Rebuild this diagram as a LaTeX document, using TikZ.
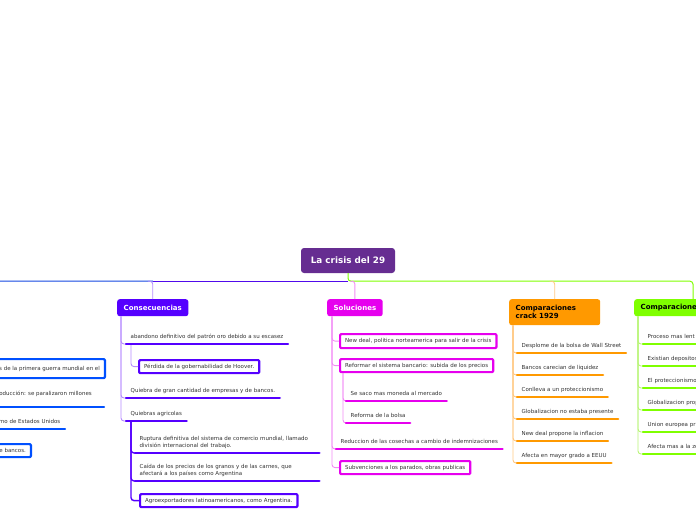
\documentclass[tikz,border=0pt]{standalone}
\usepackage{fontspec}
\setmainfont{DejaVu Sans}
\definecolor{raiz}{RGB}{102,45,145}
\definecolor{violeta}{RGB}{85,0,255}
\definecolor{violetaC}{RGB}{182,140,255}
\definecolor{violetaB}{RGB}{80,10,235}
\definecolor{rosa}{RGB}{230,0,238}
\definecolor{rosaC}{RGB}{242,140,245}
\definecolor{naranja}{RGB}{255,153,0}
\definecolor{naranjaC}{RGB}{255,200,130}
\definecolor{lima}{RGB}{127,255,0}
\definecolor{limaC}{RGB}{185,245,120}
\definecolor{azul}{RGB}{0,80,255}
\definecolor{azulB}{RGB}{20,70,225}
\definecolor{texto}{RGB}{50,50,50}

\begin{document}
\begin{tikzpicture}[x=1pt, y=-1pt, line join=round,
    every node/.style={font=\fontsize{5.5}{7}\selectfont, text=texto},
    raizbox/.style={fill=raiz, rounded corners=3pt, minimum width=94pt, minimum height=25pt,
        text=white, font=\fontsize{8.8}{10}\selectfont\bfseries},
    tema/.style={fill=#1, rounded corners=2.5pt, anchor=north west, inner xsep=6.5pt,
        minimum height=17pt, font=\fontsize{7}{8}\selectfont\bfseries, align=left},
    hoja/.style={anchor=south west, inner xsep=4.5pt, inner ysep=3.6pt, text depth=1.3pt, align=left},
    hoja2/.style={hoja, text depth=8.3pt, text width=175pt},
    caja/.style={draw=#1, line width=2.2pt, rounded corners=1pt, anchor=north west,
        inner xsep=5pt, minimum height=13pt},
    sub/.style={draw=#1, line width=2.4pt, line cap=round},
    rama/.style={draw=#1, line width=0.9pt, rounded corners=3pt}]

    \useasboundingbox (0,0) rectangle (696,520);

    % --- 1. raiz y temas ---
    \node[raizbox] (root) at (348,260.5) {La crisis del 29};
    \node[tema=violeta, text=white] (cons) at (117,299) {Consecuencias};
    \node[tema=rosa, text=white] (sol) at (327,299) {Soluciones};
    \node[tema=naranja, text=black, text width=78pt, minimum height=26pt] (crack) at (509,299) {Comparaciones\\crack 1929};
    \node[tema=lima, text=black] (cmpB) at (634,299) {Comparaciones};

    \coordinate (cruce) at ([yshift=-8pt]root.south);
    \coordinate (offL) at (-5,281);

    % --- 2. lineas principales ---
    \draw[rama=lima, line width=1pt] (root.south) -- (cruce) -| ([xshift=59pt]cmpB.north west);
    \draw[violetaB, line width=1pt] (cruce) -- (cons.north |- cruce);
    \draw[azulB, line width=1pt] (cons.north |- cruce) -- (offL);
    \draw[rama=violetaC] ([xshift=-5pt]cons.north |- cruce) -| (cons.north);
    \draw[rama=rosaC] ([xshift=-5pt]sol.north |- cruce) -| (sol.north);
    \draw[rama=naranjaC] ([xshift=-5pt]crack.north |- cruce) -| (crack.north);

    % --- 3. rama cortada a la izquierda ---
    \node[caja=azul, anchor=north east, minimum height=19pt] (izq1) at (106,358) {s de la primera guerra mundial en el};
    \node[anchor=base east, inner sep=0pt] (izq2) at (92,395) {oducción: se paralizaron millones};
    \coordinate (izq2f) at (104,407);
    \draw[sub=azul] (izq2f -| offL) -- (izq2f);
    \node[hoja, anchor=south east] (izq3) at (65,429) {rno de Estados Unidos};
    \draw[sub=azul] (izq3.south -| offL) -- (izq3.south east);
    \node[caja=azul, anchor=north east] (izq4) at (32,443) {e bancos.};

    % --- 4. Consecuencias ---
    \node[hoja] (c1) at (126,344) {abandono definitivo del patrón oro debido a su escasez};
    \node[caja=violeta] (c1a) at (138,359) {Pérdida de la gobernabilidad de Hoover.};
    \node[hoja] (c2) at (126,398) {Quiebra de gran cantidad de empresas y de bancos.};
    \node[hoja] (c3) at (126,421) {Quiebras agricolas};
    \node[hoja2] (c3a) at (135,453) {Ruptura definitiva del sistema de comercio mundial, llamado\\división internacional del trabajo.};
    \node[hoja2] (c3b) at (135,481) {Caída de los precios de los granos y de las carnes, que\\afectará a los países como Argentina};
    \node[caja=violeta] (c3c) at (139,493) {Agroexportadores latinoamericanos, como Argentina.};

    \draw[rama=violetaC] ([xshift=4pt]cons.south west) |- (c1.south west);
    \draw[rama=violetaC] ([xshift=4pt]cons.south west) |- (c2.south west);
    \draw[rama=violetaC] ([xshift=4pt]cons.south west) |- (c3.south west);
    \draw[rama=violetaC] ([xshift=5pt]c1.south west) |- (c1a.west);
    \draw[rama=violeta, line width=1.4pt] ([xshift=5pt]c3.south west) |- (c3a.south west);
    \draw[rama=violeta, line width=1.4pt] ([xshift=5pt]c3.south west) |- (c3b.south west);
    \draw[rama=violeta, line width=1.4pt] ([xshift=5pt]c3.south west) |- (c3c.west);
    \draw[sub=violeta] (c1.south west) -- (c1.south east);
    \draw[sub=violeta] (c2.south west) -- (c2.south east);
    \draw[sub=violeta] (c3.south west) -- (c3.south east);
    \draw[sub=violeta] (c3a.south west) -- (c3a.south east);
    \draw[sub=violeta] (c3b.south west) -- (c3b.south east);

    % --- 5. Soluciones ---
    \node[caja=rosa, minimum height=14pt] (s1) at (339,333) {New deal, politica norteamerica para salir de la crisis};
    \node[caja=rosa] (s2) at (339,358) {Reformar el sistema bancario: subida de los precios};
    \node[hoja] (s2a) at (346,401) {Se saco mas moneda al mercado};
    \node[hoja] (s2b) at (346,423) {Reforma de la bolsa};
    \node[hoja] (s3) at (336,449) {Reduccion de las cosechas a cambio de indemnizaciones};
    \node[caja=rosa] (s4) at (339,460) {Subvenciones a los parados, obras publicas};

    \draw[rama=rosaC] ([xshift=5pt]sol.south west) |- (s1.west);
    \draw[rama=rosaC] ([xshift=5pt]sol.south west) |- (s2.west);
    \draw[rama=rosaC] ([xshift=5pt]sol.south west) |- (s3.south west);
    \draw[rama=rosaC] ([xshift=5pt]sol.south west) |- (s4.west);
    \draw[rama=rosaC] ([xshift=4pt]s2.south west) |- (s2a.south west);
    \draw[rama=rosaC] ([xshift=4pt]s2.south west) |- (s2b.south west);
    \draw[sub=rosa] (s2a.south west) -- (s2a.south east);
    \draw[sub=rosa] (s2b.south west) -- (s2b.south east);
    \draw[sub=rosa] (s3.south west) -- (s3.south east);

    % --- 6. Comparaciones crack 1929 ---
    \node[hoja] (k1) at (517,353) {Desplome de la bolsa de Wall Street};
    \node[hoja] (k2) at (517,375) {Bancos carecian de liquidez};
    \node[hoja] (k3) at (517,397) {Conlleva a un proteccionismo};
    \node[hoja] (k4) at (517,419) {Globalizacion no estaba presente};
    \node[hoja] (k5) at (517,441) {New deal propone la inflacion};
    \node[hoja] (k6) at (517,463) {Afecta en mayor grado a EEUU};

    \draw[rama=naranjaC] ([xshift=4pt]crack.south west) |- (k1.south west);
    \draw[rama=naranjaC] ([xshift=4pt]crack.south west) |- (k2.south west);
    \draw[rama=naranjaC] ([xshift=4pt]crack.south west) |- (k3.south west);
    \draw[rama=naranjaC] ([xshift=4pt]crack.south west) |- (k4.south west);
    \draw[rama=naranjaC] ([xshift=4pt]crack.south west) |- (k5.south west);
    \draw[rama=naranjaC] ([xshift=4pt]crack.south west) |- (k6.south west);
    \draw[sub=naranja] (k1.south west) -- (k1.south east);
    \draw[sub=naranja] (k2.south west) -- (k2.south east);
    \draw[sub=naranja] (k3.south west) -- (k3.south east);
    \draw[sub=naranja] (k4.south west) -- (k4.south east);
    \draw[sub=naranja] (k5.south west) -- (k5.south east);
    \draw[sub=naranja] (k6.south west) -- (k6.south east);

    % --- 7. Comparaciones (cortada a la derecha) ---
    \node[hoja, text width=60pt] (b1) at (643,344) {Proceso mas lent};
    \node[hoja, text width=60pt] (b2) at (643,366) {Existian depositos};
    \node[hoja, text width=60pt] (b3) at (643,388) {El proteccionismo};
    \node[hoja, text width=60pt] (b4) at (643,410) {Globalizacion prop};
    \node[hoja, text width=60pt] (b5) at (643,432) {Union europea pr};
    \node[hoja, text width=60pt] (b6) at (643,454) {Afecta mas a la zo};

    \draw[rama=limaC] ([xshift=4pt]cmpB.south west) |- (b1.south west);
    \draw[rama=limaC] ([xshift=4pt]cmpB.south west) |- (b2.south west);
    \draw[rama=limaC] ([xshift=4pt]cmpB.south west) |- (b3.south west);
    \draw[rama=limaC] ([xshift=4pt]cmpB.south west) |- (b4.south west);
    \draw[rama=limaC] ([xshift=4pt]cmpB.south west) |- (b5.south west);
    \draw[rama=limaC] ([xshift=4pt]cmpB.south west) |- (b6.south west);
    \draw[sub=lima] (b1.south west) -- (b1.south east);
    \draw[sub=lima] (b2.south west) -- (b2.south east);
    \draw[sub=lima] (b3.south west) -- (b3.south east);
    \draw[sub=lima] (b4.south west) -- (b4.south east);
    \draw[sub=lima] (b5.south west) -- (b5.south east);
    \draw[sub=lima] (b6.south west) -- (b6.south east);

\end{tikzpicture}
\end{document}
